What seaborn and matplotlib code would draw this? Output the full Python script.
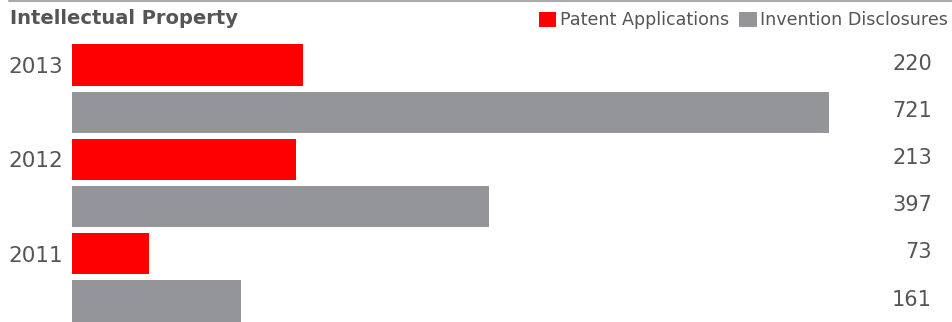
import matplotlib
matplotlib.use("Agg")
import matplotlib.pyplot as plt
import matplotlib.transforms as mtransforms
from matplotlib.lines import Line2D
import pandas as pd
import seaborn as sns

years = ["2013", "2012", "2011"]
patent_applications = [220, 213, 73]
invention_disclosures = [721, 397, 161]
series_names = ["Patent Applications", "Invention Disclosures"]
series_colors = ["#ff0000", "#939598"]

TEXT = "#555555"

sns.set_style("white")
plt.rcParams["font.family"] = ["DejaVu Sans"]

# one row per bar: red row then gray row for each year
rows = []
for y, p, inv in zip(years, patent_applications, invention_disclosures):
    rows.append({"row": f"{y} a", "year": y, "series": series_names[0], "value": p})
    rows.append({"row": f"{y} b", "year": y, "series": series_names[1], "value": inv})
df = pd.DataFrame(rows)
order = df["row"].tolist()

fig = plt.figure(figsize=(9.53, 3.22), dpi=100)
ax = fig.add_axes([72 / 953, 0.0, 1 - 72 / 953, 280.6 / 322])

sns.barplot(data=df, x="value", y="row", hue="series", order=order,
            hue_order=series_names, palette=series_colors, dodge=False,
            width=0.87, orient="h", saturation=1, linewidth=0, ax=ax)

ax.set_xlim(0, 839)
ax.set_ylim(5.445, -0.5)
ax.set_xlabel("")
ax.set_ylabel("")
ax.set_xticks([])
ax.set_yticks(range(len(order)),
              labels=[r["year"] if r["series"] == series_names[0] else "" for r in rows],
              fontsize=15.5, color=TEXT)
ax.tick_params(axis="y", length=0, pad=6.5)
sns.despine(ax=ax, left=True, bottom=True)

# value labels, right aligned near the figure edge
trans = mtransforms.blended_transform_factory(ax.transAxes, ax.transData)
for i, r in enumerate(rows):
    ax.text((932 - 72) / (953 - 72), i - 0.03, f"{r['value']}", transform=trans,
            ha="right", va="center", fontsize=15, color=TEXT)

# legend
handles, labels = ax.get_legend_handles_labels()
ax.legend_.remove()
fig.legend(handles, labels, loc="upper right", bbox_to_anchor=(1.007, 1.0),
           ncol=2, frameon=False, fontsize=12.6, labelcolor=TEXT,
           handlelength=1.0, handleheight=0.95, handletextpad=0.2,
           columnspacing=0.6, borderaxespad=0.25)

fig.text(10 / 953, 1 - 18 / 322, "Intellectual Property", fontsize=14,
         fontweight="bold", color=TEXT, ha="left", va="center")

fig.add_artist(Line2D([9 / 953, 1], [1 - 1 / 322, 1 - 1 / 322],
                      transform=fig.transFigure, color="#aaaaaa", linewidth=1.5))

fig.savefig("out.png", dpi=100)
